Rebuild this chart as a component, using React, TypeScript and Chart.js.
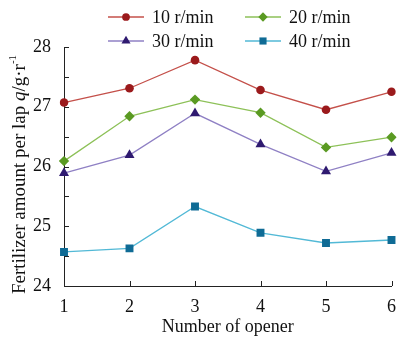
import React, { useEffect, useRef } from "react";
import { Chart, registerables } from "chart.js";

Chart.register(...registerables);

const openers = ["1", "2", "3", "4", "5", "6"];
const speedLabels = ["10 r/min", "20 r/min", "30 r/min", "40 r/min"];
const s10 = [27.07, 27.31, 27.78, 27.28, 26.95, 27.25];
const s20 = [26.09, 26.84, 27.12, 26.9, 26.32, 26.49];
const s30 = [25.89, 26.19, 26.89, 26.37, 25.92, 26.23];
const s40 = [24.57, 24.63, 25.33, 24.89, 24.72, 24.77];
const yTicks = [24, 25, 26, 27, 28];

const lineColors = ["#c4504a", "#8dc158", "#8f80c4", "#52b9d6"];
const markerColors = ["#9b1a1c", "#5a9a22", "#2f1a70", "#0f6b95"];
const markerStyles = ["circle", "rectRot", "triangle", "rect"];
const markerRadius = [4.3, 5.2, 5.8, 5.6];

const FONT = "'Liberation Serif', 'Times New Roman', serif";

function drawMarker(ctx: CanvasRenderingContext2D, style: string, x: number, y: number, r: number) {
  ctx.beginPath();
  if (style === "circle") {
    ctx.arc(x, y, r, 0, Math.PI * 2);
  } else if (style === "rectRot") {
    ctx.moveTo(x, y - r);
    ctx.lineTo(x + r, y);
    ctx.lineTo(x, y + r);
    ctx.lineTo(x - r, y);
    ctx.closePath();
  } else if (style === "triangle") {
    ctx.moveTo(x, y - r);
    ctx.lineTo(x + r * 0.866, y + r * 0.5);
    ctx.lineTo(x - r * 0.866, y + r * 0.5);
    ctx.closePath();
  } else {
    const s = r * Math.SQRT1_2;
    ctx.rect(x - s, y - s, 2 * s, 2 * s);
  }
  ctx.fill();
}

const legendPlugin = {
  id: "customLegend",
  afterDraw(chart: any) {
    const ctx: CanvasRenderingContext2D = chart.ctx;
    ctx.save();
    ctx.font = `18px ${FONT}`;
    ctx.textBaseline = "middle";
    ctx.textAlign = "left";
    const cols = [108, 245];
    const rows = [17, 41];
    speedLabels.forEach((label, i) => {
      const x0 = cols[i % 2];
      const y = rows[Math.floor(i / 2)];
      ctx.strokeStyle = lineColors[i];
      ctx.lineWidth = 1.3;
      ctx.beginPath();
      ctx.moveTo(x0, y);
      ctx.lineTo(x0 + 36, y);
      ctx.stroke();
      ctx.fillStyle = markerColors[i];
      drawMarker(ctx, markerStyles[i], x0 + 18, y, markerRadius[i] * 0.9);
      ctx.fillStyle = "#111";
      ctx.fillText(label, x0 + 44, y + 1);
    });
    ctx.restore();
  },
};

const ticksPlugin = {
  id: "inwardTicks",
  afterDatasetsDraw(chart: any) {
    const ctx: CanvasRenderingContext2D = chart.ctx;
    const xs = chart.scales.x;
    const ys = chart.scales.y;
    const area = chart.chartArea;
    ctx.save();
    ctx.strokeStyle = "#222";
    ctx.lineWidth = 1;
    ctx.beginPath();
    for (let v = yTicks[0] + 0.5; v <= yTicks[yTicks.length - 1] + 0.001; v += 0.5) {
      const y = Math.round(ys.getPixelForValue(v)) + 0.5;
      ctx.moveTo(area.left, y);
      ctx.lineTo(area.left + 5, y);
    }
    for (let i = 1; i < openers.length; i++) {
      const x = Math.round(xs.getPixelForValue(i)) + 0.5;
      ctx.moveTo(x, area.bottom);
      ctx.lineTo(x, area.bottom - 5);
    }
    ctx.stroke();
    ctx.restore();
  },
};

const yTitlePlugin = {
  id: "yTitle",
  afterDraw(chart: any) {
    const ctx: CanvasRenderingContext2D = chart.ctx;
    const area = chart.chartArea;
    const parts: { t: string; f: string; dy: number }[] = [
      { t: "Fertilizer amount per lap ", f: `19px ${FONT}`, dy: 0 },
      { t: "q", f: `italic 19px ${FONT}`, dy: 0 },
      { t: "/g·r", f: `19px ${FONT}`, dy: 0 },
      { t: "-1", f: `11px ${FONT}`, dy: -7 },
    ];
    ctx.save();
    let total = 0;
    const widths = parts.map((p) => {
      ctx.font = p.f;
      const w = ctx.measureText(p.t).width;
      total += w;
      return w;
    });
    const cy = (area.top + area.bottom) / 2 + 8;
    ctx.translate(20, cy);
    ctx.rotate(-Math.PI / 2);
    ctx.fillStyle = "#111";
    ctx.textBaseline = "middle";
    ctx.textAlign = "left";
    let x = -total / 2;
    parts.forEach((p, i) => {
      ctx.font = p.f;
      ctx.fillText(p.t, x, p.dy);
      x += widths[i];
    });
    ctx.restore();
  },
};

export default function App() {
  const ref = useRef<HTMLCanvasElement | null>(null);
  useEffect(() => {
    if (!ref.current) return;
    Chart.defaults.font.family = FONT;
    const series = [s10, s20, s30, s40];
    const chart = new Chart(ref.current, {
      type: "line",
      data: {
        labels: openers,
        datasets: series.map((d, i) => ({
          label: speedLabels[i],
          data: d,
          borderColor: lineColors[i],
          backgroundColor: markerColors[i],
          pointBackgroundColor: markerColors[i],
          pointBorderColor: markerColors[i],
          pointBorderWidth: 0,
          pointStyle: markerStyles[i] as any,
          pointRadius: markerRadius[i],
          borderWidth: 1.3,
          tension: 0,
          fill: false,
        })),
      },
      options: {
        responsive: false,
        animation: false,
        events: [],
        layout: { padding: { left: 0, right: 6, top: 47, bottom: 0 } },
        plugins: {
          legend: { display: false },
          tooltip: { enabled: false },
          title: { display: false },
        },
        scales: {
          x: {
            type: "category",
            offset: false,
            grid: { display: false },
            border: { display: true, color: "#222", width: 1 },
            ticks: { color: "#111", font: { size: 18 }, padding: 2, maxRotation: 0 },
            title: {
              display: true,
              text: "Number of opener",
              color: "#111",
              font: { size: 18 },
              padding: { top: 0, bottom: 0 },
            },
            afterFit: (s: any) => {
              s.height = 52;
            },
          },
          y: {
            min: yTicks[0],
            max: yTicks[yTicks.length - 1],
            afterBuildTicks: (s: any) => {
              s.ticks = yTicks.map((v) => ({ value: v }));
            },
            grid: { display: false },
            border: { display: true, color: "#222", width: 1 },
            ticks: { color: "#111", font: { size: 18 }, padding: 5 },
            afterFit: (s: any) => {
              s.width = 64;
            },
          },
        },
      },
      plugins: [ticksPlugin, legendPlugin, yTitlePlugin],
    });
    return () => chart.destroy();
  }, []);
  return (
    <div style={{ position: "absolute", left: 0, top: 0, width: 398, height: 338, background: "#fff" }}>
      <canvas ref={ref} width={398} height={338} style={{ display: "block" }} />
    </div>
  );
}
